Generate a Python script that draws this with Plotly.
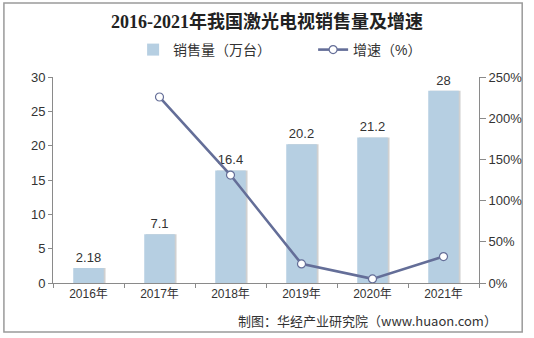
import plotly.graph_objects as go

years = ["2016年", "2017年", "2018年", "2019年", "2020年", "2021年"]
sales = [2.18, 7.1, 16.4, 20.2, 21.2, 28]
sales_labels = ["2.18", "7.1", "16.4", "20.2", "21.2", "28"]
growth_years = ["2017年", "2018年", "2019年", "2020年", "2021年"]
growth = [225.7, 131.0, 23.2, 5.0, 32.1]

FONT = "Liberation Sans, Arial, Noto Sans CJK SC, sans-serif"
BAR = "#b6cfe2"
LINE = "#646e98"
AXIS = "#8a8a8a"

fig = go.Figure()
# soft shadow behind bars
fig.add_trace(go.Bar(
    x=years, y=sales, width=0.43, offset=-0.19,
    marker=dict(color="rgba(120,120,120,0.35)", line=dict(width=0)),
    hoverinfo="skip", showlegend=False,
))
fig.add_trace(go.Bar(
    x=years, y=sales, name="销售量（万台）", width=0.43, offset=-0.215,
    marker=dict(color=BAR, line=dict(width=0)),
    text=sales_labels, textposition="outside", cliponaxis=False,
    textfont=dict(family=FONT, size=13, color="#333333"),
))
fig.add_trace(go.Scatter(
    x=growth_years, y=growth, name="增速（%）", yaxis="y2",
    mode="lines+markers",
    line=dict(color=LINE, width=2.6),
    marker=dict(symbol="circle", size=8, color="white", line=dict(color=LINE, width=1.2)),
    cliponaxis=False,
))

fig.update_layout(
    width=534, height=338,
    margin=dict(l=53, r=47, t=77, b=55),
    paper_bgcolor="white", plot_bgcolor="white",
    barmode="overlay",
    title=dict(
        text="<b>2016-2021年我国激光电视销售量及增速</b>",
        x=0.5, xanchor="center", y=1 - 22 / 338, yanchor="middle",
        font=dict(family="Liberation Serif, Noto Sans CJK SC, serif", size=18, color="#222222"),
    ),
    legend=dict(
        orientation="h", x=0.5 + 48 / 434, xanchor="center", y=(283 - 50) / 206, yanchor="middle",
        yref="paper", font=dict(family=FONT, size=14, color="#333333"),
        itemwidth=30, traceorder="normal", entrywidth=135,
    ),
    xaxis=dict(
        type="category", categoryorder="array", categoryarray=years,
        showline=True, linecolor=AXIS, linewidth=1,
        ticks="outside", ticklen=4, tickcolor=AXIS, tickson="boundaries",
        tickfont=dict(family=FONT, size=12, color="#333333"),
        showgrid=False, zeroline=False,
    ),
    yaxis=dict(
        range=[0, 30], dtick=5, showline=True, linecolor=AXIS, linewidth=1,
        ticks="outside", ticklen=4, tickcolor=AXIS,
        tickfont=dict(family=FONT, size=13, color="#333333"),
        showgrid=False, zeroline=False,
    ),
    yaxis2=dict(
        overlaying="y", side="right", range=[0, 250], dtick=50, ticksuffix="%",
        showline=True, linecolor=AXIS, linewidth=1,
        ticks="outside", ticklen=6, tickcolor=AXIS,
        tickfont=dict(family=FONT, size=13, color="#333333"),
        showgrid=False, zeroline=False,
    ),
    shapes=[dict(
        type="rect", xref="paper", yref="paper",
        x0=(3 - 53) / 434, x1=(531 - 53) / 434,
        y0=(283 - 332) / 206, y1=(283 - 3) / 206,
        line=dict(color="#9a9a9a", width=1.5), fillcolor="rgba(0,0,0,0)", layer="below",
    )],
    annotations=[dict(
        text="制图：华经产业研究院（www.huaon.com）",
        xref="paper", yref="paper", x=(507 - 53) / 434, xanchor="right",
        y=(283 - 320) / 206, yanchor="middle", showarrow=False,
        font=dict(family="Noto Sans CJK SC, sans-serif", size=13, color="#333333"),
    )],
)

fig.write_html("out.html")
